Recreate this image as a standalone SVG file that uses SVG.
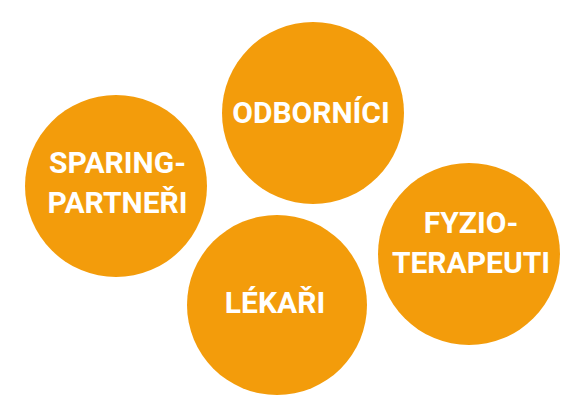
<svg xmlns="http://www.w3.org/2000/svg" width="584" height="405" viewBox="0 0 584 405">
<style>
.c{fill:#F39C0B}
.t{fill:#fff;font-family:Roboto,"Liberation Sans",sans-serif;font-weight:bold;font-size:30px;text-anchor:middle}
</style>
<rect width="584" height="405" fill="#fff"/>
<g id="odbornici"><circle class="c" cx="313" cy="113" r="91"/><text class="t" x="311" y="123">ODBORNÍCI</text></g>
<g id="sparing"><circle class="c" cx="116" cy="186" r="91"/><text class="t" x="117.5" y="173">SPARING-</text><text class="t" x="117.5" y="213">PARTNEŘI</text></g>
<g id="fyzio"><circle class="c" cx="469" cy="254" r="91"/><text class="t" x="471" y="233">FYZIO-</text><text class="t" x="471" y="273">TERAPEUTI</text></g>
<g id="lekari"><circle class="c" cx="277" cy="305" r="90"/><text class="t" x="275" y="313">LÉKAŘI</text></g>
<g id="connectors"/>
</svg>
